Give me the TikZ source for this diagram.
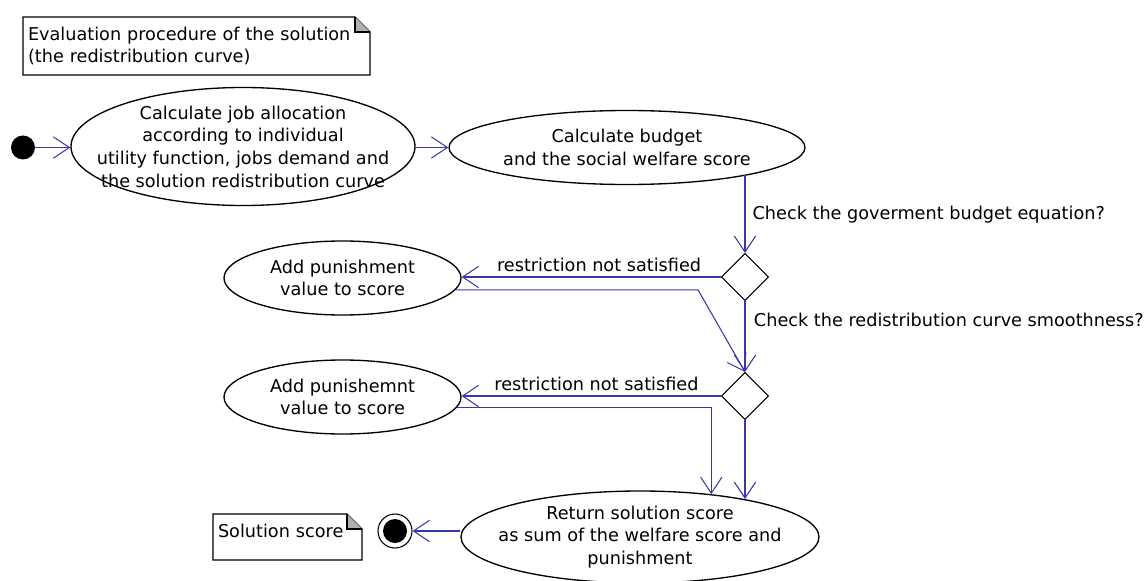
\documentclass[tikz,border=0pt]{standalone}
\usepackage{fontspec}
\setmainfont{DejaVu Sans}
\usetikzlibrary{arrows.meta,shapes.geometric}
\definecolor{flowblue}{RGB}{56,56,168}
\definecolor{foldgray}{RGB}{176,176,176}
\newcommand{\diagfont}{\fontsize{13.25pt}{17pt}\selectfont}
% note outline with the folded corner
\newcommand{\foldnote}[1]{%
  \draw[line width=0.8pt] (#1.north west) -- ([xshift=-11.25pt]#1.north east)
    -- ([yshift=-11.25pt]#1.north east) -- (#1.south east) -- (#1.south west) -- cycle;
  \filldraw[fill=foldgray, line width=0.8pt] ([xshift=-11.25pt]#1.north east)
    -- ([xshift=-11.25pt,yshift=-11.25pt]#1.north east) -- ([yshift=-11.25pt]#1.north east);
}
\begin{document}
\begin{tikzpicture}[x=0.75pt, y=-0.75pt, font=\diagfont,
  activity/.style={ellipse, draw, line width=1pt, fill=white, inner xsep=-30pt, inner ysep=-8pt, align=center},
  decision/.style={diamond, draw, line width=0.8pt, fill=white, inner sep=0pt, minimum size=35.25pt},
  flow/.style={draw=flowblue, line width=0.8pt, -{Straight Barb[length=12pt,width=16pt]}},
  memo/.style={anchor=north west, inner sep=3.75pt, outer sep=0pt, align=left}]
\useasboundingbox (0,0) rectangle (1145,581);

% notes
\node[memo, text width=252.75pt, minimum height=43.5pt] (title) at (23,17)
  {Evaluation procedure of the solution\\(the redistribution curve)};
\foldnote{title}
\node[memo, text width=104.25pt, minimum height=34.5pt, text height=10pt, text depth=10pt] (scorenote) at (213,514)
  {Solution score};
\foldnote{scorenote}

% initial and final state
\node[circle, fill, minimum size=18pt, inner sep=0pt] (start) at (23,147.5) {};
\node[circle, draw, line width=0.8pt, minimum size=25.5pt, inner sep=0pt,
  path picture={\fill (path picture bounding box.center) circle (9pt);}] (final) at (395,531) {};

% activities
\node[activity, minimum width=258pt, minimum height=88.5pt] (jobs) at (243,146.5)
  {Calculate job allocation\\according to individual\\utility function, jobs demand and\\the solution redistribution curve};
\node[activity, minimum width=267pt, minimum height=55.5pt] (budget) at (627,147.5)
  {Calculate budget\\and the social welfare score};
\node[activity, minimum width=177.75pt, minimum height=55.5pt] (punishA) at (342.5,278)
  {Add punishment\\value to score};
\node[activity, minimum width=177.75pt, minimum height=55.5pt] (punishB) at (342.5,397)
  {Add punishemnt\\value to score};
\node[activity, minimum width=268.5pt, minimum height=69pt] (result) at (640,537)
  {Return solution score\\as sum of the welfare score and\\punishment};

% decisions
\node[decision] (checkbudget) at (745,277) {};
\node[decision] (checksmooth) at (745,396) {};
\coordinate (bend) at (698,0);

% flows
\draw[flow] (start) -- (start -| jobs.west);
\draw[flow] (jobs.east |- budget) -- (budget);
\draw[flow] (checkbudget.north |- budget.-13) -- (checkbudget.north)
  node[pos=0.5, right, xshift=2pt] {Check the goverment budget equation?};
\draw[flow] (checkbudget.west) -- (checkbudget.west -| punishA.east)
  node[pos=0.47, above] {restriction not satisfied};
\draw[flow] (punishA.-6) -- (punishA.-6 -| bend) -- (checksmooth.north);
\draw[flow] (checkbudget.south) -- (checksmooth.north)
  node[pos=0.26, right, xshift=3pt] {Check the redistribution curve smoothness?};
\draw[flow] (checksmooth.west) -- (checksmooth.west -| punishB.east)
  node[pos=0.48, above] {restriction not satisfied};
\draw[flow] (punishB.-5) -| (result.31);
\draw[flow] (checksmooth.south) -- (checksmooth.south |- result.20);
\draw[flow] (final -| result.west) -- (final);
\end{tikzpicture}
\end{document}
